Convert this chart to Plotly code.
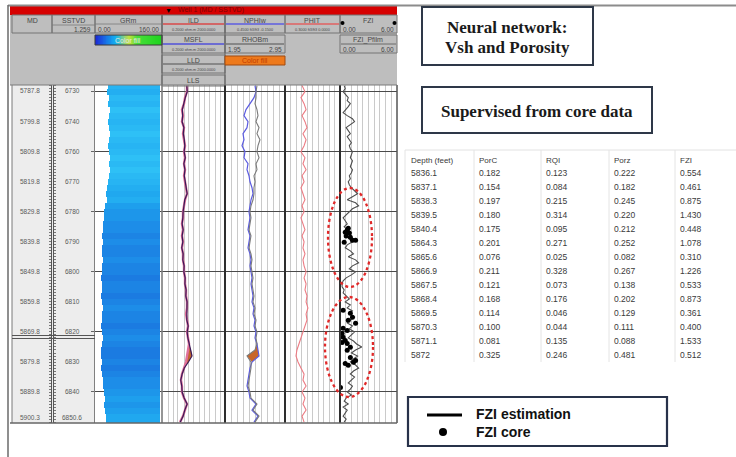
import numpy as np
import plotly.graph_objects as go

W, H = 736, 457
def px(x): return x / W
def py(y): return 1 - y / H

SANS = "Liberation Sans, Arial, sans-serif"
SERIF = "Liberation Serif, Times New Roman, serif"

# ---------------- data ----------------
DEPTH_2FT = list(range(5788, 5901, 2))          # 57 log samples, ft MD
GR = [31.0, 28.7, 33.4, 31.0, 35.8, 33.4, 31.0, 33.4, 35.8, 33.4,
      31.0, 33.4, 35.8, 33.4, 35.8, 33.4, 31.0, 28.7, 26.3, 28.7,
      23.9, 21.5, 21.5, 19.1, 19.1, 16.7, 19.1, 16.7, 16.7, 19.1,
      16.7, 16.7, 14.3, 16.7, 16.7, 14.3, 16.7, 19.1, 16.7, 16.7,
      14.3, 16.7, 19.1, 16.7, 14.3, 14.3, 16.7, 14.3, 16.7, 19.1,
      19.1, 21.5, 23.9, 21.5, 23.9, 26.3, 26.3]
ILD = [7.7, 7.7, 5.8, 5.0, 3.7, 4.3, 3.7, 5.0, 4.3, 5.0,
       5.8, 5.0, 5.8, 5.0, 5.8, 5.0, 5.8, 6.7, 7.7, 5.8,
       5.0, 4.3, 4.3, 3.7, 4.3, 3.7, 4.3, 3.7, 4.3, 4.3,
       5.0, 5.0, 5.8, 5.8, 6.7, 6.7, 7.7, 7.7, 6.7, 7.7,
       9.0, 7.7, 9.0, 10.4, 9.0, 7.7, 6.7, 5.0, 3.7, 3.2,
       3.7, 3.7, 5.0, 7.7, 5.8, 4.3, 2.8]
LLD = [7.5, 8.0, 6.0, 4.8, 3.9, 4.1, 3.8, 4.9, 4.5, 5.2,
       5.6, 5.1, 6.0, 4.9, 5.7, 5.2, 5.9, 6.9, 7.9, 5.6,
       4.9, 4.4, 4.2, 3.8, 4.4, 3.8, 4.2, 3.6, 4.4, 4.2,
       5.1, 4.9, 5.9, 5.7, 6.8, 6.5, 7.8, 7.6, 6.9, 7.5,
       9.2, 7.9, 8.8, 10.6, 13.9, 16.1, 9.5, 5.2, 3.8, 3.1,
       3.6, 3.8, 5.1, 7.9, 5.6, 4.4, 2.9]
NPHI = [0.150, 0.140, 0.160, 0.200, 0.240, 0.260, 0.220, 0.230, 0.270, 0.260,
        0.280, 0.250, 0.260, 0.220, 0.230, 0.210, 0.200, 0.180, 0.170, 0.190,
        0.200, 0.210, 0.200, 0.210, 0.220, 0.200, 0.210, 0.220, 0.200, 0.190,
        0.200, 0.190, 0.180, 0.190, 0.180, 0.170, 0.180, 0.160, 0.170, 0.150,
        0.160, 0.140, 0.150, 0.130, 0.120, 0.110, 0.180, 0.200, 0.210, 0.220,
        0.230, 0.210, 0.200, 0.140, 0.180, 0.120, 0.160]
RHOB = [2.483, 2.467, 2.467, 2.450, 2.483, 2.500, 2.467, 2.517, 2.483, 2.533,
        2.500, 2.483, 2.517, 2.467, 2.483, 2.433, 2.450, 2.433, 2.433, 2.417,
        2.383, 2.367, 2.383, 2.367, 2.350, 2.383, 2.367, 2.350, 2.383, 2.400,
        2.383, 2.400, 2.417, 2.400, 2.417, 2.433, 2.417, 2.450, 2.433, 2.467,
        2.450, 2.483, 2.467, 2.483, 2.450, 2.317, 2.383, 2.383, 2.367, 2.350,
        2.333, 2.367, 2.383, 2.483, 2.417, 2.517, 2.450]
PHIT = [0.207, 0.191, 0.213, 0.196, 0.185, 0.207, 0.191, 0.180, 0.202, 0.185,
        0.196, 0.213, 0.191, 0.202, 0.185, 0.207, 0.196, 0.213, 0.202, 0.191,
        0.207, 0.196, 0.213, 0.202, 0.191, 0.207, 0.196, 0.202, 0.191, 0.202,
        0.196, 0.185, 0.196, 0.185, 0.191, 0.180, 0.185, 0.175, 0.185, 0.180,
        0.191, 0.202, 0.213, 0.224, 0.235, 0.240, 0.229, 0.213, 0.196, 0.202,
        0.185, 0.207, 0.191, 0.202, 0.185, 0.207, 0.196]

DEPTH_1FT = list(range(5788, 5901))              # 113 samples
FZI_EST = [0.44, 0.55, 0.33, 0.65, 0.87, 0.76, 1.09, 0.87, 0.55, 0.33,
           0.76, 1.31, 1.53, 1.09, 0.65, 0.87, 1.09, 0.76, 0.98, 1.20,
           0.98, 1.09, 1.31, 1.20, 1.09, 1.31, 1.20, 1.09, 1.31, 1.20,
           0.98, 1.09, 0.87, 0.98, 1.20, 1.53, 1.85, 1.31, 0.76, 1.64,
           1.96, 1.31, 0.98, 0.65, 0.33, 0.55, 0.76, 0.44, 0.87, 1.20,
           0.65, 0.98, 1.31, 0.76, 0.55, 1.09, 1.42, 0.87, 1.64, 1.96,
           1.31, 0.98, 1.64, 1.20, 0.65, 0.33, 0.22, 0.22, 0.44, 0.33,
           0.65, 0.98, 0.55, 1.09, 0.76, 1.31, 0.98, 1.53, 1.09, 0.76,
           1.31, 0.98, 1.53, 1.20, 0.87, 1.42, 1.75, 2.29, 1.64, 1.20,
           1.85, 1.42, 1.09, 1.64, 1.96, 1.42, 1.09, 1.53, 1.20, 0.87,
           1.31, 1.09, 0.76, 1.20, 0.65, 0.44, 0.87, 0.33, 0.76, 0.55,
           0.33, 0.65, 0.44]
CORE_DEPTH = [5835.5, 5836.1, 5836.8, 5837.1, 5838.1, 5838.5, 5839.5, 5839.5, 5840.1,
              5862.8, 5863.8, 5865.1, 5866.1, 5867.1, 5868.8, 5869.5, 5870.5, 5871.8, 5872.8,
              5873.5, 5873.8, 5875.1, 5876.1, 5878.5, 5879.5, 5880.1, 5880.5, 5881.1, 5888.5]
CORE_FZI = [0.87, 0.76, 0.55, 0.98, 0.65, 1.09, 1.31, 1.64, 0.44,
            0.33, 1.09, 1.31, 0.87, 1.64, 0.33, 0.76, 0.22, 0.33, 0.55,
            0.22, 0.76, 1.09, 0.76, 1.09, 1.64, 1.42, 0.55, 0.87, 0.05]

LABEL_DEPTHS = [5787.8, 5799.8, 5809.8, 5819.8, 5829.8, 5839.8, 5849.8, 5859.8,
                5869.8, 5879.8, 5889.8, 5900.3]
MD_LABELS = ["5787.8", "5799.8", "5809.8", "5819.8", "5829.8", "5839.8", "5849.8",
             "5859.8", "5869.8", "5879.8", "5889.8", "5900.3"]
SSTVD_LABELS = ["6730", "6740", "6760", "6770", "6780", "6790", "6800", "6810",
                "6820", "6830", "6840", "6850.6"]

GR_SCALE = list(range(0, 161, 4))

TABLE_HEADERS = ["Depth (feet)", "PorC", "RQI", "Porz", "FZI"]
TABLE_DEPTH = ["5836.1", "5837.1", "5838.3", "5839.5", "5840.4", "5864.3", "5865.6",
               "5866.9", "5867.5", "5868.4", "5869.5", "5870.3", "5871.1", "5872"]
TABLE_PORC = [0.182, 0.154, 0.197, 0.180, 0.175, 0.201, 0.076, 0.211, 0.121, 0.168,
              0.114, 0.100, 0.081, 0.325]
TABLE_RQI = [0.123, 0.084, 0.215, 0.314, 0.095, 0.271, 0.025, 0.328, 0.073, 0.176,
             0.046, 0.044, 0.135, 0.246]
TABLE_PORZ = [0.222, 0.182, 0.245, 0.220, 0.212, 0.252, 0.082, 0.267, 0.138, 0.202,
              0.129, 0.111, 0.088, 0.481]
TABLE_FZI = [0.554, 0.461, 0.875, 1.430, 0.448, 1.078, 0.310, 1.226, 0.533, 0.873,
             0.361, 0.400, 1.533, 0.512]

for arr in (GR, ILD, LLD, NPHI, RHOB, PHIT):
    assert len(arr) == len(DEPTH_2FT)
assert len(FZI_EST) == len(DEPTH_1FT)
assert len(CORE_DEPTH) == len(CORE_FZI)

# ---------------- derived ----------------
gr = np.array(GR)
gr_cols = np.arange(1, 157, 2)
gr_fill = np.where(gr_cols[None, :] >= gr[:, None],
                   np.repeat(gr[:, None], len(gr_cols), axis=1), np.nan)

ild = np.array(ILD)
lld = np.array(LLD)
ild_cross = np.where(np.log10(lld) - np.log10(ild) > 0.12, lld, ild)

nphi = np.array(NPHI)
rhob = np.array(RHOB)
rhob_as_nphi = 0.45 - 0.6 * (rhob - 1.95)
nphi_cross = np.where(rhob_as_nphi > nphi + 0.011, rhob_as_nphi, nphi)

fig = go.Figure()

# dummy trace so the MD ruler axis is drawn
fig.add_trace(go.Scatter(x=[None], y=[None], xaxis="x8", yaxis="y5", showlegend=False, hoverinfo="skip"))

# GR colour fill
fig.add_trace(go.Heatmap(
    x=gr_cols, y=DEPTH_2FT, z=gr_fill, xaxis="x", yaxis="y",
    zmin=10, zmax=36, showscale=False, hoverinfo="skip",
    colorscale=[[0, "#1A6ADA"], [0.3, "#1C88E6"], [0.6, "#1FA6EF"], [1, "#2EC0F6"]]))

# Resistivity track
fig.add_trace(go.Scatter(x=ild_cross, y=DEPTH_2FT, xaxis="x2", yaxis="y", mode="lines",
                         line=dict(width=0), showlegend=False, hoverinfo="skip"))
fig.add_trace(go.Scatter(x=ild, y=DEPTH_2FT, xaxis="x2", yaxis="y", mode="lines",
                         line=dict(width=0), fill="tonextx", fillcolor="#C0642C",
                         showlegend=False, hoverinfo="skip"))
fig.add_trace(go.Scatter(x=ILD, y=DEPTH_2FT, xaxis="x2", yaxis="y", mode="lines",
                         line=dict(color="#E0709A", width=2.4), name="ILD"))
fig.add_trace(go.Scatter(x=LLD, y=DEPTH_2FT, xaxis="x2", yaxis="y", mode="lines",
                         line=dict(color="#3A1A58", width=1.2), name="LLD"))

# Neutron / density track
fig.add_trace(go.Scatter(x=nphi_cross, y=DEPTH_2FT, xaxis="x3", yaxis="y", mode="lines",
                         line=dict(width=0), showlegend=False, hoverinfo="skip"))
fig.add_trace(go.Scatter(x=nphi, y=DEPTH_2FT, xaxis="x3", yaxis="y", mode="lines",
                         line=dict(width=0), fill="tonextx", fillcolor="#C8662A",
                         showlegend=False, hoverinfo="skip"))
fig.add_trace(go.Scatter(x=RHOB, y=DEPTH_2FT, xaxis="x4", yaxis="y", mode="lines",
                         line=dict(color="#7A7A7A", width=1.1), name="RHOBm"))
fig.add_trace(go.Scatter(x=NPHI, y=DEPTH_2FT, xaxis="x3", yaxis="y", mode="lines",
                         line=dict(color="#5C5CE0", width=1.2), name="NPHIw"))

# PHIT
fig.add_trace(go.Scatter(x=PHIT, y=DEPTH_2FT, xaxis="x5", yaxis="y", mode="lines",
                         line=dict(color="#EC7C84", width=1.1), name="PHIT"))

# FZI
fig.add_trace(go.Scatter(x=FZI_EST, y=DEPTH_1FT, xaxis="x6", yaxis="y", mode="lines",
                         line=dict(color="#4E4E4E", width=1.1), name="FZI estimation"))
fig.add_trace(go.Scatter(x=CORE_FZI, y=CORE_DEPTH, xaxis="x6", yaxis="y", mode="markers",
                         marker=dict(color="#000000", size=5), name="FZI core"))

# header colour-fill legend bar
fig.add_trace(go.Heatmap(z=[GR_SCALE], xaxis="x7", yaxis="y3", showscale=False, zsmooth="best",
                         hoverinfo="skip",
                         colorscale=[[0, "#1C2FD8"], [0.3, "#12B4F2"], [0.5, "#C8E23C"],
                                     [0.62, "#48DE3A"], [1, "#1ED41E"]]))

# ---------------- axes ----------------
ydom = [py(423), py(85)]
yr = [5900.3, 5787.8]
common_x = dict(anchor="y", showticklabels=False, ticks="", zeroline=False,
                gridcolor="#CACACA", gridwidth=1, fixedrange=True)
fig.update_layout(
    xaxis=dict(domain=[px(95), px(162)], range=[0, 160], showgrid=False, **common_x),
    xaxis2=dict(domain=[px(162), px(225)], type="log", range=[np.log10(0.2), np.log10(2000)],
                dtick="D2", showgrid=True, **common_x),
    xaxis3=dict(domain=[px(225), px(285)], range=[0.45, -0.15], tick0=-0.15, dtick=0.06,
                showgrid=True, **common_x),
    xaxis4=dict(overlaying="x3", range=[1.95, 2.95], visible=False, anchor="y"),
    xaxis5=dict(domain=[px(285), px(340)], range=[0.3, 0], tick0=0, dtick=0.03,
                showgrid=True, **common_x),
    xaxis6=dict(domain=[px(340), px(397)], range=[0, 6], tick0=0, dtick=0.6,
                showgrid=True, **common_x),
    xaxis7=dict(domain=[px(95), px(162)], anchor="y3", visible=False),
    xaxis8=dict(domain=[px(51.5), px(52.5)], anchor="y5", visible=False),
    yaxis=dict(domain=ydom, range=yr, anchor="x", tick0=5789.8, dtick=20, showgrid=True,
               gridcolor="#4A4A4A", gridwidth=1.3, showticklabels=False, ticks="outside",
               ticklen=3, tickcolor="#666", zeroline=False, showline=True, linecolor="#808080",
               linewidth=1),
    yaxis5=dict(domain=ydom, range=yr, anchor="x8", showgrid=False, showticklabels=False,
                ticks="outside", ticklen=2, tick0=5788, dtick=1, tickcolor="#777",
                showline=True, mirror="ticks", linecolor="#555", linewidth=1, zeroline=False),
    yaxis3=dict(domain=[py(45), py(35)], anchor="x7", visible=False),
)

# ---------------- shapes ----------------
shapes = []
def rect(x0, y0, x1, y1, fill="rgba(0,0,0,0)", line="#707070", lw=1, layer="above"):
    shapes.append(dict(type="rect", xref="paper", yref="paper", x0=px(x0), x1=px(x1),
                       y0=py(y1), y1=py(y0), fillcolor=fill, layer=layer,
                       line=dict(color=line, width=lw)))
def hline(x0, x1, y, color, lw=1, layer="above", dash="solid"):
    shapes.append(dict(type="line", xref="paper", yref="paper", x0=px(x0), x1=px(x1),
                       y0=py(y), y1=py(y), layer=layer, line=dict(color=color, width=lw, dash=dash)))
def vline(x, y0, y1, color, lw=1, layer="above"):
    shapes.append(dict(type="line", xref="paper", yref="paper", x0=px(x), x1=px(x),
                       y0=py(y0), y1=py(y1), layer=layer, line=dict(color=color, width=lw)))

# header
rect(10, 15, 397, 85, fill="#BEBEBE", line="#9A9A9A", lw=0, layer="below")
rect(12, 85, 95, 423, fill="#EDEDED", line="#EDEDED", lw=0, layer="below")
rect(10, 6, 397, 15, fill="#D60000", line="#B00000", lw=0)
for c in [(12, 15, 52, 33), (52, 15, 95, 33), (95, 15, 162, 33), (162, 15, 225, 33),
          (162, 35, 225, 53), (162, 55, 225, 73), (162, 75, 225, 86), (225, 15, 285, 33),
          (225, 35, 285, 53), (285, 15, 340, 33), (340, 15, 397, 33), (340, 35, 397, 53)]:
    rect(*c, line="#747474", lw=1)
vline(162, 15, 85, "#6A6A6A", 1.2)
vline(225, 15, 85, "#6A6A6A", 1.2)
hline(52, 95, 25, "#7A7A7A", 0.8)
hline(95, 162, 24, "#7A7A7A", 0.8)
hline(163, 224, 24, "#D84848", 1.3)
hline(163, 224, 44, "#5050D8", 1.3)
hline(163, 224, 64, "#505050", 1.1)
hline(226, 284, 24, "#5C5CE0", 1.3)
hline(226, 284, 44, "#505050", 1.1)
hline(286, 339, 24, "#E06060", 1.3)
hline(341, 396, 44, "#606060", 0.9)
rect(225, 56, 285, 65, fill="#EE7A1C", line="#A04A10", lw=1)
rect(95, 35, 162, 45, line="#3A3A3A", lw=1)
for cx in (342.5, 394.5):
    shapes.append(dict(type="circle", xref="paper", yref="paper", x0=px(cx - 2), x1=px(cx + 2),
                       y0=py(25), y1=py(21), fillcolor="#000", line=dict(color="#000", width=0)))

# track frame
vline(12, 85, 423, "#7A7A7A", 1)
vline(162, 85, 423, "#7C7C7C", 1.6)
for xb in (225, 285, 340):
    vline(xb, 85, 423, "#2E2E2E", 2)
vline(397, 85, 423, "#555555", 1.5)
hline(10, 397, 85, "#7A7A7A", 1)
hline(10, 397, 423, "#666666", 1.5)
hline(12, 95, 335.5, "#555555", 1)
hline(12, 95, 338.5, "#555555", 1)

# outer frame
hline(8, 736, 5.5, "#8C8C8C", 2)
vline(8, 5, 457, "#6A6A6A", 1.5)

# ellipses around cored intervals
for (x0, y0, x1, y1) in [(328, 188, 372, 287), (325, 297, 373, 397)]:
    shapes.append(dict(type="circle", xref="paper", yref="paper", x0=px(x0), x1=px(x1),
                       y0=py(y1), y1=py(y0), line=dict(color="#E02828", width=2.3, dash="dot")))

# text boxes
rect(422, 7, 593, 65, line="#2E3848", lw=2)
rect(422, 87, 652, 133, line="#2E3848", lw=2)

# table grid (faint)
hline(405, 736, 150, "#E2E2E2", 1)
for xv in (405, 474, 541, 609, 675):
    vline(xv, 150, 362, "#E4E4E4", 1)

# legend box
rect(408, 397, 667, 446, line="#28324A", lw=2.2)
hline(427, 462, 415, "#000000", 3)
shapes.append(dict(type="circle", xref="paper", yref="paper", x0=px(439), x1=px(447),
                   y0=py(436), y1=py(428), fillcolor="#000", line=dict(color="#000", width=0)))

# ---------------- annotations ----------------
anns = []
def T(x, y, text, size=7, color="#474747", xa="center", ya="middle", family=SANS):
    anns.append(dict(x=px(x), y=py(y), xref="paper", yref="paper", text=text, showarrow=False,
                     xanchor=xa, yanchor=ya, borderpad=0,
                     font=dict(size=size, color=color, family=family)))

T(168, 10.5, "▼", 7, "#000000")
T(177, 10.5, "Well 1 (MD / SSTVD)", 7, "#7A0000", xa="left")
T(32, 20, "MD"); T(73, 20, "SSTVD"); T(82, 29.5, "1.259", 6.5)
T(128, 20, "GRm"); T(97, 29.5, "0.00", 6.5, xa="left"); T(160, 29.5, "160.00", 6.5, xa="right")
T(128, 40, "Color fill", 7, "#E8E8E8")
T(193, 20, "ILD"); T(193, 29.5, "0.2000 ohm.m 2000.0000", 3.8)
T(193, 39.5, "MSFL"); T(193, 49.5, "0.2000 ohm.m 2000.0000", 3.8)
T(193, 60, "LLD"); T(193, 69.5, "0.2000 ohm.m 2000.0000", 3.8)
T(193, 80, "LLS")
T(255, 20, "NPHIw"); T(255, 29.5, "0.4500 ft3/ft3 -0.1500", 3.8)
T(255, 39.5, "RHOBm"); T(227, 49.5, "1.95", 6.5, xa="left"); T(283, 49.5, "2.95", 6.5, xa="right")
T(255, 60.5, "Color fill", 7, "#C03A00")
T(312, 20, "PHIT"); T(312, 29.5, "0.3000 ft3/ft3 0.0000", 3.8)
T(368, 20, "FZI"); T(342, 29.5, "0.00", 6.5, xa="left"); T(395, 29.5, "6.00", 6.5, xa="right")
T(368, 40, "FZI_Pfilm"); T(342, 49.5, "0.00", 6.5, xa="left"); T(395, 49.5, "6.00", 6.5, xa="right")

# depth labels
for i, (d, md, tv) in enumerate(zip(LABEL_DEPTHS, MD_LABELS, SSTVD_LABELS)):
    ya = "top" if i == 0 else ("bottom" if i == len(LABEL_DEPTHS) - 1 else "middle")
    for xx, lab in ((30, md), (72, tv)):
        anns.append(dict(x=px(xx), y=d, xref="paper", yref="y", text=lab, showarrow=False,
                         xanchor="center", yanchor=ya, borderpad=1,
                         font=dict(size=6.5, color="#5A5A5A", family=SANS)))

# text boxes
T(507, 28, "<b>Neural network:</b>", 17, "#1A1A1A", family=SERIF)
T(507, 47, "<b>Vsh and Porosity</b>", 17, "#1A1A1A", family=SERIF)
T(537, 111, "<b>Supervised from core data</b>", 17, "#1A1A1A", family=SERIF)

# table
col_x = [410, 478, 545, 613, 679]
for cx, h in zip(col_x, TABLE_HEADERS):
    T(cx, 160, h, 8, "#3A3A3A", xa="left")
for i in range(len(TABLE_DEPTH)):
    yy = 173 + 14 * i
    row = [TABLE_DEPTH[i], f"{TABLE_PORC[i]:.3f}", f"{TABLE_RQI[i]:.3f}",
           f"{TABLE_PORZ[i]:.3f}", f"{TABLE_FZI[i]:.3f}"]
    for cx, v in zip(col_x, row):
        T(cx, yy, v, 8.5, "#3A3A3A", xa="left")

# legend
T(475, 414, "<b>FZI estimation</b>", 14, "#111111", xa="left")
T(475, 432, "<b>FZI core</b>", 14, "#111111", xa="left")

fig.update_layout(
    width=W, height=H, margin=dict(l=0, r=0, t=0, b=0),
    paper_bgcolor="white", plot_bgcolor="white", showlegend=False,
    shapes=shapes, annotations=anns,
)

fig.write_html("out.html", config={"displayModeBar": False},
               post_script="document.body.style.margin='0';")
